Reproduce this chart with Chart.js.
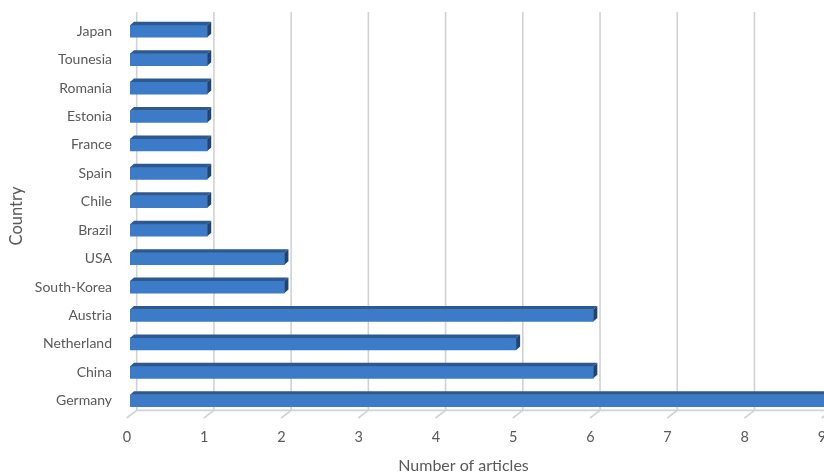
<!DOCTYPE html>
<html><head><meta charset="utf-8">
<script src="https://cdn.jsdelivr.net/npm/chart.js@4.4.0/dist/chart.umd.min.js"></script>
<style>html,body{margin:0;padding:0;background:#fff;overflow:hidden;}#wrap{width:840px;height:475px;}</style>
</head><body><div id="wrap"><canvas id="c" width="840" height="475"></canvas></div>
<script>
const countries = ['Japan','Tounesia','Romania','Estonia','France','Spain','Chile','Brazil','USA','South-Korea','Austria','Netherland','China','Germany'];
const articles = [1,1,1,1,1,1,1,1,2,2,6,5,6,9];
const xTicks = [0,1,2,3,4,5,6,7,8,9];
const xTitle = 'Number of articles';
const yTitle = 'Country';

const textColor = '#595959';
const fontFamily = 'Lato, "Open Sans", sans-serif';
const barDepth = {dx: 4, dy: 3.5};

const threeD = {
  id: 'threeD',
  beforeDatasetsDraw(chart) {
    const {ctx, chartArea: a, scales: {x}} = chart;
    ctx.save();
    ctx.strokeStyle = '#d2d2d2';
    ctx.lineWidth = 1.6;
    const floorY = a.bottom + 3;
    const topY = a.top - 5;
    xTicks.forEach(v => {
      const fx = x.getPixelForValue(v) - 3.3;
      const bx = fx + 10, by = floorY - 7.6;
      ctx.beginPath();
      ctx.moveTo(bx, topY);
      ctx.lineTo(bx, by);
      ctx.lineTo(fx, floorY);
      ctx.stroke();
    });
    ctx.beginPath();
    ctx.moveTo(x.getPixelForValue(0) - 3.3 + 10, floorY - 7.6);
    ctx.lineTo(a.right + 30, floorY - 7.6);
    ctx.stroke();
    ctx.restore();
  },
  afterDatasetsDraw(chart) {
    const {ctx} = chart;
    const meta = chart.getDatasetMeta(0);
    const {dx, dy} = barDepth;
    ctx.save();
    meta.data.forEach(bar => {
      const p = bar.getProps(['x', 'y', 'base', 'height'], true);
      const top = p.y - p.height / 2;
      ctx.fillStyle = '#2c5992';
      ctx.beginPath();
      ctx.moveTo(p.base, top);
      ctx.lineTo(p.base + dx, top - dy);
      ctx.lineTo(p.x + dx, top - dy);
      ctx.lineTo(p.x, top);
      ctx.closePath();
      ctx.fill();
      ctx.fillStyle = '#1f4373';
      ctx.beginPath();
      ctx.moveTo(p.x, top);
      ctx.lineTo(p.x + dx, top - dy);
      ctx.lineTo(p.x + dx, top - dy + p.height);
      ctx.lineTo(p.x, top + p.height);
      ctx.closePath();
      ctx.fill();
    });
    ctx.restore();
  },
  afterDraw(chart) {
    const {ctx, chartArea: a} = chart;
    ctx.save();
    ctx.font = '16px ' + fontFamily;
    ctx.fillStyle = textColor;
    ctx.textAlign = 'center';
    ctx.textBaseline = 'middle';
    ctx.fillText(xTitle, (a.left + a.right) / 2 - 14, chart.height - 9);
    ctx.restore();
  }
};

new Chart(document.getElementById('c'), {
  type: 'bar',
  data: {
    labels: countries,
    datasets: [{
      data: articles,
      backgroundColor: '#3b7bc8',
      borderWidth: 0,
      barThickness: 12
    }]
  },
  options: {
    indexAxis: 'y',
    responsive: false,
    animation: false,
    layout: {padding: {left: 0, right: 15, top: 17, bottom: 0}},
    plugins: {legend: {display: false}, tooltip: {enabled: false}},
    scales: {
      x: {
        min: 0, max: 9,
        afterBuildTicks(scale) { scale.ticks = xTicks.map(v => ({value: v})); },
        afterFit(scale) { scale.height = 60; },
        grid: {display: false, drawTicks: true, tickLength: 14},
        border: {display: false},
        ticks: {color: textColor, font: {family: fontFamily, size: 14.5}, padding: 0, labelOffset: -3, maxRotation: 0, autoSkip: false}
      },
      y: {
        afterFit(scale) { scale.width = 130; },
        grid: {display: false, drawTicks: true, tickLength: 18},
        border: {display: false},
        ticks: {color: textColor, font: {family: fontFamily, size: 14}, padding: 0},
        title: {display: true, text: yTitle, color: textColor, font: {family: fontFamily, size: 16.5}, padding: {top: 7, bottom: 0}}
      }
    }
  },
  plugins: [threeD]
});
</script>
</body></html>
